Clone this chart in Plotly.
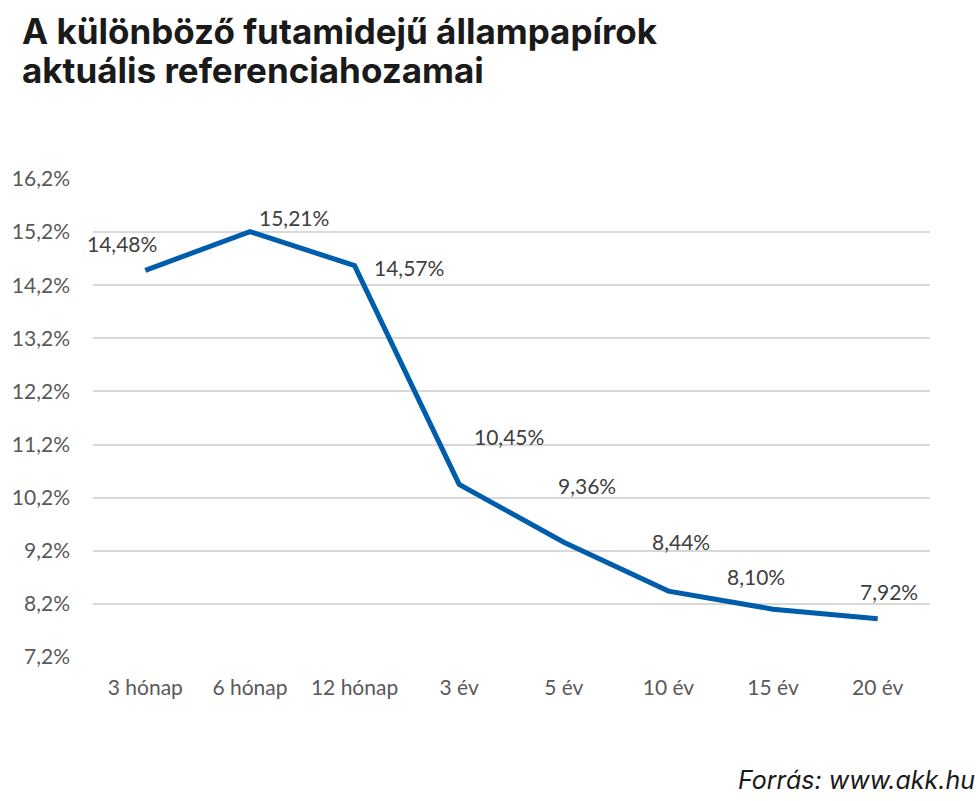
import plotly.graph_objects as go

categories = ["3 hónap", "6 hónap", "12 hónap", "3 év", "5 év", "10 év", "15 év", "20 év"]
yields = [14.48, 15.21, 14.57, 10.45, 9.36, 8.44, 8.10, 7.92]
tick_vals = [7.2, 8.2, 9.2, 10.2, 11.2, 12.2, 13.2, 14.2, 15.2, 16.2]
tick_text = ["7,2%", "8,2%", "9,2%", "10,2%", "11,2%", "12,2%", "13,2%", "14,2%", "15,2%", "16,2%"]
title_lines = ["A különböző futamidejű állampapírok", "aktuális referenciahozamai"]
source_text = "Forrás: www.akk.hu"

# label offsets (pixels) relative to each point, matching the reference placement
label_dx = [-23, 44, 54, 50, 23, 13, -17, 11]
label_dy = [27, 14, -2, 48, 57, 50, 33, 27]

W, H = 980, 801
ML, MR, MT, MB = 89, 50, 179, 144
PW = W - ML - MR
PH = H - MT - MB


def px_x(x):
    return (x - ML) / PW


def px_y(y):
    return (H - MB - y) / PH


fig = go.Figure()
fig.add_trace(go.Scatter(
    x=categories, y=yields, mode="lines",
    line=dict(color="#005DAC", width=5),
    hoverinfo="skip", showlegend=False,
))

annotations = []
for c, v, dx, dy in zip(categories, yields, label_dx, label_dy):
    annotations.append(dict(
        x=c, y=v, xref="x", yref="y",
        text=f"{v:.2f}%".replace(".", ","),
        showarrow=False, xshift=dx, yshift=dy,
        font=dict(family="Lato", size=21, color="#404040"),
    ))

for line, yc in zip(title_lines, [31, 70]):
    annotations.append(dict(
        x=px_x(16), y=px_y(yc), xref="paper", yref="paper",
        xanchor="left", yanchor="middle", showarrow=False,
        text=f"<b>{line}</b>",
        font=dict(family="Inter", size=35, color="#1a1a1a"),
    ))

annotations.append(dict(
    x=px_x(977), y=px_y(780), xref="paper", yref="paper",
    xanchor="right", yanchor="middle", showarrow=False,
    text=f"<i>{source_text}</i>",
    font=dict(family="Inter", size=25, color="#1a1a1a"),
))

fig.update_layout(
    width=W, height=H,
    margin=dict(l=ML, r=MR, t=MT, b=MB),
    paper_bgcolor="white", plot_bgcolor="white",
    annotations=annotations,
    xaxis=dict(
        type="category", range=[-0.5, len(categories) - 0.5],
        showgrid=False, zeroline=False, showline=False, ticks="",
        tickfont=dict(family="Lato", size=21, color="#595959"),
        ticklabelstandoff=16,
    ),
    yaxis=dict(
        range=[7.2, 16.2], tickvals=tick_vals, ticktext=tick_text,
        showgrid=True, gridcolor="#D9D9D9", gridwidth=2,
        zeroline=False, showline=False, ticks="",
        tickfont=dict(family="Lato", size=21, color="#595959"),
        ticklabelstandoff=22,
    ),
)

fig.write_html("out.html")
